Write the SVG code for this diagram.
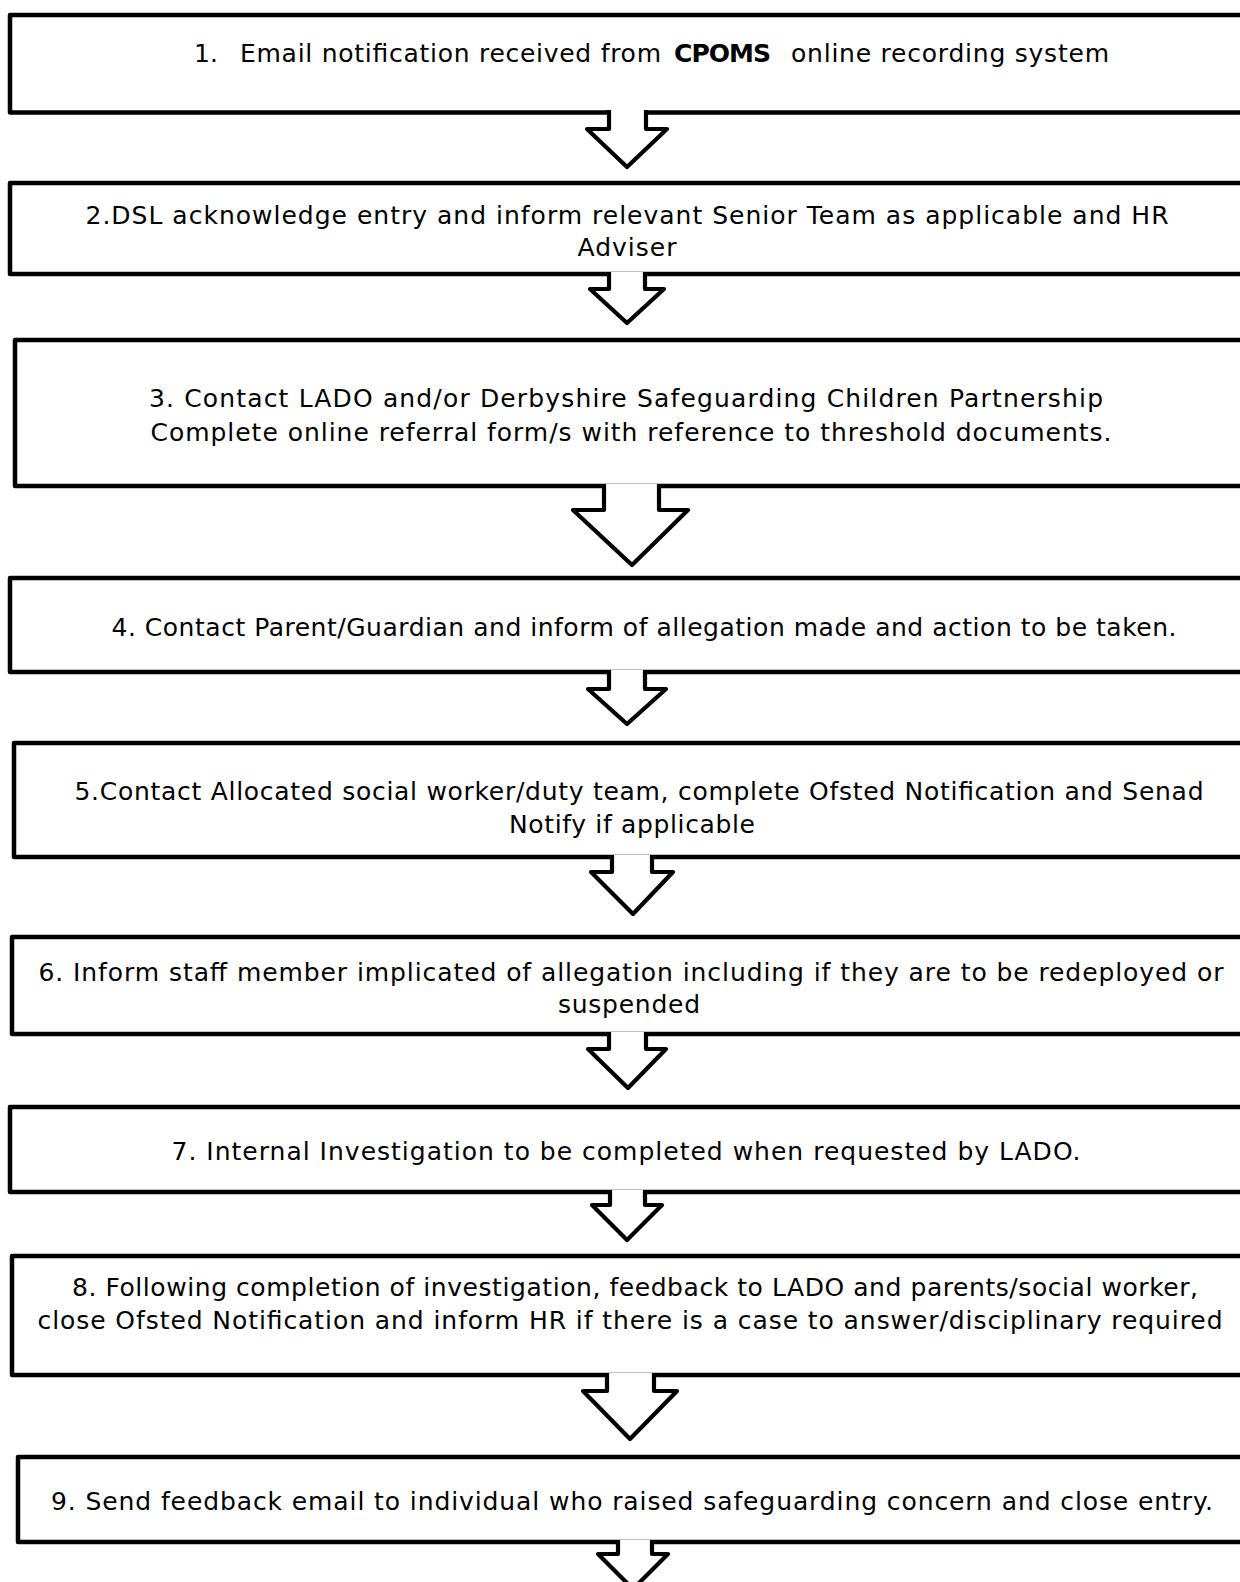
<svg xmlns="http://www.w3.org/2000/svg" width="1240" height="1582" viewBox="0 0 1240 1582">
<style>
.box{fill:#fff;stroke:#000;stroke-width:4.5;stroke-linejoin:round}
.arr{fill:#fff;stroke:#000;stroke-width:4.2;stroke-linejoin:round;stroke-linecap:butt}
text{font-family:"DejaVu Sans","Verdana",sans-serif;font-size:25px;fill:#000}
.c{text-anchor:middle}
</style>
<rect width="1240" height="1582" fill="#fff"/>
<g id="n1"><rect class="box" x="10" y="15" width="1260" height="97.5"/>
<text x="194" y="62">1.</text>
<text x="240" y="62" textLength="421" lengthAdjust="spacing">Email notification received from</text>
<text x="674" y="62" font-weight="bold" textLength="97" lengthAdjust="spacing">CPOMS</text>
<text x="791" y="62" textLength="318" lengthAdjust="spacing">online recording system</text></g>
<g id="n2"><rect class="box" x="10" y="183" width="1260" height="91"/>
<text class="c" x="627" y="224" textLength="1083" lengthAdjust="spacing">2.DSL acknowledge entry and inform relevant Senior Team as applicable and HR</text>
<text class="c" x="627" y="256" textLength="99" lengthAdjust="spacing">Adviser</text></g>
<g id="n3"><rect class="box" x="15" y="340" width="1260" height="146"/>
<text class="c" x="626" y="407" textLength="954" lengthAdjust="spacing">3. Contact LADO and/or Derbyshire Safeguarding Children Partnership</text>
<text class="c" x="631" y="441" textLength="961" lengthAdjust="spacing">Complete online referral form/s with reference to threshold documents.</text></g>
<g id="n4"><rect class="box" x="10" y="578" width="1260" height="94"/>
<text class="c" x="644" y="636" textLength="1065" lengthAdjust="spacing">4. Contact Parent/Guardian and inform of allegation made and action to be taken.</text></g>
<g id="n5"><rect class="box" x="14" y="743" width="1260" height="114"/>
<text class="c" x="639" y="800" textLength="1129" lengthAdjust="spacing">5.Contact Allocated social worker/duty team, complete Ofsted Notification and Senad</text>
<text class="c" x="632" y="833" textLength="246" lengthAdjust="spacing">Notify if applicable</text></g>
<g id="n6"><rect class="box" x="12" y="937" width="1260" height="97"/>
<text class="c" x="631" y="981" textLength="1185" lengthAdjust="spacing">6. Inform staff member implicated of allegation including if they are to be redeployed or</text>
<text class="c" x="629" y="1013" textLength="142" lengthAdjust="spacing">suspended</text></g>
<g id="n7"><rect class="box" x="10" y="1107" width="1260" height="85"/>
<text class="c" x="626" y="1160" textLength="909" lengthAdjust="spacing">7. Internal Investigation to be completed when requested by LADO.</text></g>
<g id="n8"><rect class="box" x="12" y="1256" width="1260" height="119"/>
<text class="c" x="635" y="1296" textLength="1126" lengthAdjust="spacing">8. Following completion of investigation, feedback to LADO and parents/social worker,</text>
<text class="c" x="630" y="1329" textLength="1185" lengthAdjust="spacing">close Ofsted Notification and inform HR if there is a case to answer/disciplinary required</text></g>
<g id="n9"><rect class="box" x="18" y="1457" width="1260" height="85"/>
<text class="c" x="632" y="1510" textLength="1162" lengthAdjust="spacing">9. Send feedback email to individual who raised safeguarding concern and close entry.</text></g>
<g id="connectors">
<path class="arr" d="M609 110 L609 129 L587 129 L627 167 L667 129 L646 129 L646 110"/>
<path class="arr" d="M609 272 L609 289 L590 289 L627 323 L664 289 L645 289 L645 272"/>
<path class="arr" d="M604 484 L604 510 L573 510 L632 565 L688 510 L659 510 L659 484"/>
<path class="arr" d="M609 670 L609 689 L588 689 L627 724 L666 689 L645 689 L645 670"/>
<path class="arr" d="M612 855 L612 872 L591 872 L633 914 L673 872 L652 872 L652 855"/>
<path class="arr" d="M609 1032 L609 1049 L588 1049 L628 1088 L666 1049 L646 1049 L646 1032"/>
<path class="arr" d="M610 1190 L610 1205 L592 1205 L627 1240 L662 1205 L645 1205 L645 1190"/>
<path class="arr" d="M607 1373 L607 1391 L583 1391 L630 1439 L677 1391 L654 1391 L654 1373"/>
<path class="arr" d="M618 1540 L618 1554 L598 1554 L633 1589 L668 1554 L652 1554 L652 1540"/>
</g>
</svg>
